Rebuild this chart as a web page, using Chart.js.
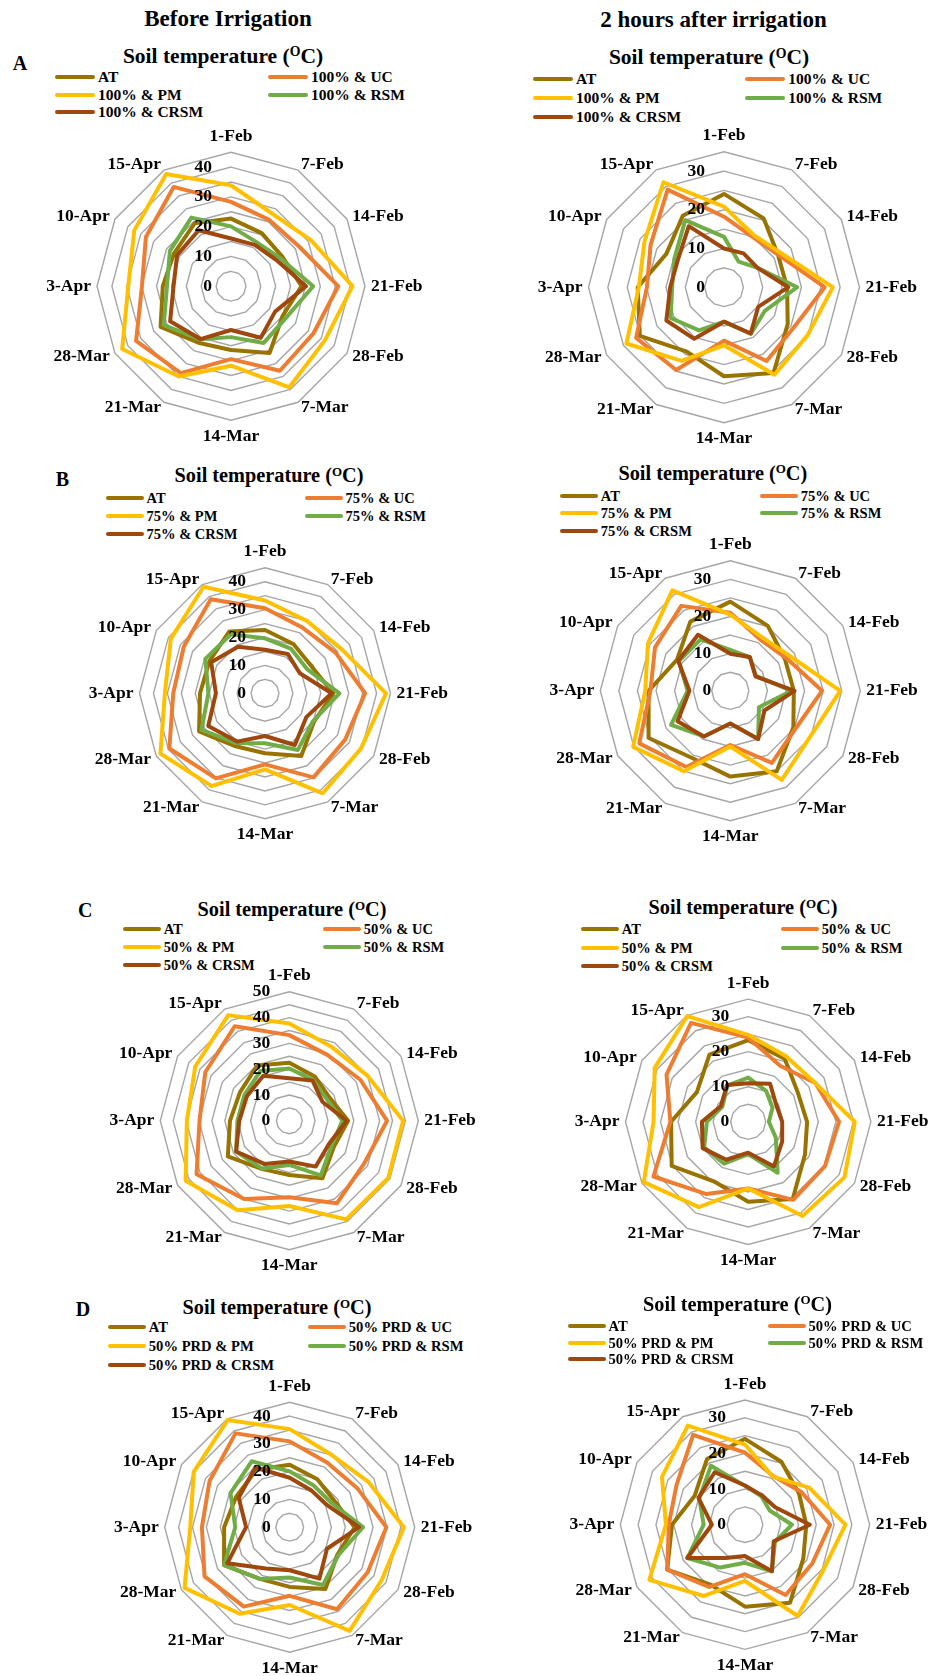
<!DOCTYPE html>
<html>
<head>
<meta charset="utf-8">
<script src="https://cdn.jsdelivr.net/npm/chart.js@4.4.1/dist/chart.umd.min.js"></script>
<style>
  html, body { margin: 0; padding: 0; background: #fff; }
  body {
    width: 944px; height: 1676px; position: relative; overflow: hidden;
    font-family: "Liberation Serif", "Times New Roman", serif; font-weight: bold; color: #000;
  }
  .txt { position: absolute; white-space: nowrap; line-height: 1; }
  .mid { transform: translate(-50%, -50%); }
  .lft { transform: translateY(-50%); }
  .sw { position: absolute; height: 4px; border-radius: 2px; transform: translateY(-50%); }
  .sup { font-size: 64%; position: relative; top: -0.48em; }
  canvas { position: absolute; }
</style>
</head>
<body>
<script>
// Sampling dates (radar axes, clockwise from the top)
const dates = ['1-Feb', '7-Feb', '14-Feb', '21-Feb', '28-Feb', '7-Mar', '14-Mar', '21-Mar', '28-Mar', '3-Apr', '10-Apr', '15-Apr'];
const seriesColors = ['#997300', '#ED7D31', '#FFC000', '#70AD47', '#9E480E'];

// Series names per irrigation level
const legendA = ['AT', '100% & UC', '100% & PM', '100% & RSM', '100% & CRSM'];
const legendB = ['AT', '75% & UC', '75% & PM', '75% & RSM', '75% & CRSM'];
const legendC = ['AT', '50% & UC', '50% & PM', '50% & RSM', '50% & CRSM'];
const legendD = ['AT', '50% PRD & UC', '50% PRD & PM', '50% PRD & RSM', '50% PRD & CRSM'];

// A – 100 % irrigation, before irrigation
const beforeA_AT   = [22.7, 20.6, 19.9, 23.7, 20.0, 25.9, 21.4, 21.9, 27.3, 22.9, 22.1, 24.4];
const beforeA_UC   = [28.3, 25.7, 26.5, 36.0, 31.9, 32.8, 24.5, 33.7, 36.8, 29.9, 33.0, 38.5];
const beforeA_PM   = [33.9, 28.0, 31.0, 40.8, 36.4, 39.2, 26.7, 35.0, 42.2, 34.5, 37.5, 43.5];
const beforeA_RSM  = [20.1, 17.1, 19.0, 27.6, 21.3, 22.0, 17.1, 20.6, 26.1, 21.5, 23.7, 26.6];
const beforeA_CRSM = [16.0, 16.0, 17.6, 25.2, 17.1, 20.0, 14.7, 20.5, 23.6, 19.3, 20.9, 21.7];
// A – 2 hours after irrigation
const afterA_AT   = [24.1, 20.5, 16.2, 16.3, 19.0, 25.6, 23.0, 19.2, 25.1, 22.3, 17.2, 21.3];
const afterA_UC   = [18.2, 14.9, 16.4, 26.0, 20.8, 22.0, 13.8, 24.7, 26.2, 19.9, 21.9, 29.1];
const afterA_PM   = [20.8, 15.5, 17.3, 28.1, 24.9, 26.1, 15.0, 22.0, 29.1, 22.0, 23.7, 31.3];
const afterA_RSM  = [13.0, 7.6, 10.0, 18.9, 12.2, 13.9, 8.9, 12.9, 15.9, 13.4, 14.8, 20.0];
const afterA_CRSM = [10.0, 10.1, 10.0, 16.6, 10.2, 13.8, 8.9, 15.4, 17.2, 13.9, 13.8, 18.2];

// B – 75 % irrigation
const beforeB_AT   = [22.7, 20.4, 19.3, 24.5, 20.3, 26.0, 21.5, 21.8, 27.3, 23.3, 23.0, 25.6];
const beforeB_UC   = [30.5, 27.1, 29.2, 35.9, 33.2, 34.8, 25.5, 35.2, 39.6, 32.9, 33.6, 38.9];
const beforeB_PM   = [33.3, 30.0, 31.7, 43.4, 39.7, 41.4, 27.3, 38.4, 43.3, 35.9, 39.0, 44.1];
const beforeB_RSM  = [19.7, 18.5, 17.4, 26.7, 19.9, 23.5, 17.9, 20.6, 26.3, 20.3, 24.7, 24.4];
const beforeB_CRSM = [15.6, 16.3, 14.4, 23.9, 17.1, 21.4, 15.3, 20.0, 23.5, 17.6, 22.3, 19.3];
const afterB_AT   = [24.0, 20.2, 17.0, 17.1, 19.6, 25.0, 23.1, 20.8, 25.4, 22.0, 16.6, 21.5];
const afterB_UC   = [21.0, 16.0, 17.5, 24.7, 20.3, 22.4, 14.6, 23.7, 28.3, 21.5, 23.4, 26.4];
const afterB_PM   = [20.5, 16.8, 18.6, 29.6, 24.8, 27.7, 15.0, 25.0, 30.2, 22.9, 25.6, 31.2];
const afterB_RSM  = [11.0, 10.5, 8.0, 16.5, 8.9, 15.0, 8.8, 14.2, 18.4, 11.5, 16.0, 16.0];
const afterB_CRSM = [10.0, 10.5, 7.8, 17.3, 10.6, 15.0, 8.8, 14.2, 16.4, 11.0, 16.2, 17.4];

// C – 50 % irrigation
const beforeC_AT   = [22.5, 19.8, 18.0, 22.8, 20.0, 25.7, 21.0, 21.5, 27.5, 23.0, 22.1, 24.8];
const beforeC_UC   = [33.2, 29.5, 31.8, 37.9, 33.4, 36.9, 29.6, 35.0, 41.5, 34.8, 37.6, 42.3];
const beforeC_PM   = [37.7, 33.0, 35.0, 44.1, 44.3, 44.1, 33.0, 40.0, 46.4, 39.7, 42.1, 47.3];
const beforeC_RSM  = [20.3, 18.3, 16.8, 20.6, 19.0, 24.4, 17.1, 21.3, 23.8, 20.1, 20.1, 22.3];
const beforeC_CRSM = [16.5, 18.0, 14.8, 22.2, 17.8, 20.5, 15.8, 19.3, 23.8, 19.4, 19.0, 20.2];
const afterC_AT   = [23.3, 20.8, 16.4, 16.8, 18.7, 25.4, 22.8, 19.6, 25.2, 22.0, 16.9, 22.1];
const afterC_UC   = [24.0, 18.4, 22.1, 25.9, 25.3, 25.7, 19.0, 23.8, 31.2, 22.2, 26.9, 32.6];
const afterC_PM   = [24.8, 21.6, 22.1, 30.4, 31.7, 31.0, 19.0, 28.1, 34.4, 27.0, 30.8, 34.8];
const afterC_RSM  = [12.6, 10.2, 8.0, 5.9, 9.1, 16.8, 9.2, 13.8, 14.5, 11.8, 8.5, 11.9];
const afterC_CRSM = [11.0, 12.5, 9.3, 9.7, 11.2, 14.7, 8.8, 12.5, 15.0, 13.2, 9.0, 12.1];

// D – 50 % partial root-zone drying
const beforeD_AT   = [22.5, 19.9, 18.7, 23.4, 19.8, 25.7, 21.5, 21.5, 27.3, 23.6, 22.2, 23.9];
const beforeD_UC   = [30.9, 26.9, 28.1, 34.8, 32.4, 34.1, 24.7, 33.0, 35.4, 31.6, 33.3, 39.0];
const beforeD_PM   = [35.3, 30.1, 32.7, 41.1, 38.2, 43.1, 28.0, 36.0, 43.7, 35.8, 39.9, 44.6];
const beforeD_RSM  = [20.1, 17.3, 17.4, 26.4, 20.2, 24.0, 18.1, 21.5, 27.3, 19.6, 24.6, 27.4];
const beforeD_CRSM = [17.8, 15.4, 15.7, 25.0, 15.5, 21.4, 15.5, 17.2, 25.9, 15.7, 21.2, 24.8];
const afterD_AT   = [24.1, 20.4, 17.5, 17.2, 18.9, 25.3, 23.0, 19.4, 25.2, 20.5, 16.3, 21.3];
const afterD_UC   = [20.2, 15.8, 18.3, 23.9, 21.8, 22.8, 13.9, 20.2, 25.2, 21.4, 22.2, 29.1];
const afterD_PM   = [22.5, 15.6, 20.8, 28.2, 25.4, 29.6, 15.8, 23.1, 31.0, 22.2, 26.9, 32.1];
const afterD_RSM  = [10.9, 9.2, 8.0, 13.2, 9.7, 15.1, 10.7, 13.9, 18.7, 11.6, 14.8, 19.1];
const afterD_CRSM = [11.0, 9.5, 9.8, 18.2, 9.3, 15.1, 8.8, 10.8, 18.7, 9.3, 15.1, 17.0];

// Radial axis maxima (°C)
const axisMaxBefore = [45, 45, 50, 45];
const axisMaxAfter = [35, 35, 35, 35];

const FONT = '"Liberation Serif", "Times New Roman", serif';

// Panel layout: radar centre/radius, title and legend placement
const panels = [
  { cx: 231, cy: 286.2, R: 134, max: axisMaxBefore[0], names: legendA,
    data: [beforeA_AT, beforeA_UC, beforeA_PM, beforeA_RSM, beforeA_CRSM],
    title: [223, 57, 21.5], lg: { rows: [77, 94.5, 112], c1: 55, c2: 268, sw: 40, size: 15.5 } },
  { cx: 724, cy: 287.2, R: 135.5, max: axisMaxAfter[0], names: legendA,
    data: [afterA_AT, afterA_UC, afterA_PM, afterA_RSM, afterA_CRSM],
    title: [709, 58.3, 21.5], lg: { rows: [79, 98.3, 117.3], c1: 533, c2: 745.3, sw: 40, size: 15.5 } },
  { cx: 265, cy: 693.3, R: 125.5, max: axisMaxBefore[1], names: legendB,
    data: [beforeB_AT, beforeB_UC, beforeB_PM, beforeB_RSM, beforeB_CRSM],
    title: [269, 475, 20.3], lg: { rows: [498.3, 516, 534], c1: 106, c2: 305, sw: 37.5, size: 14.5 } },
  { cx: 730.3, cy: 690.8, R: 130, max: axisMaxAfter[1], names: legendB,
    data: [afterB_AT, afterB_UC, afterB_PM, afterB_RSM, afterB_CRSM],
    title: [712.8, 472.7, 20.3], lg: { rows: [496, 513.3, 530.7], c1: 560.3, c2: 760.3, sw: 37.5, size: 14.5 } },
  { cx: 289.3, cy: 1120.8, R: 129, max: axisMaxBefore[2], names: legendC,
    data: [beforeC_AT, beforeC_UC, beforeC_PM, beforeC_RSM, beforeC_CRSM],
    title: [292, 909.3, 20.3], lg: { rows: [929.3, 947, 965], c1: 122.7, c2: 322.7, sw: 38, size: 14.5 } },
  { cx: 748.2, cy: 1121.8, R: 122.7, max: axisMaxAfter[2], names: legendC,
    data: [afterC_AT, afterC_UC, afterC_PM, afterC_RSM, afterC_CRSM],
    title: [743, 907.3, 20.3], lg: { rows: [929.3, 947.7, 966.3], c1: 581.3, c2: 781.3, sw: 37.5, size: 14.5 } },
  { cx: 289.7, cy: 1527.2, R: 125, max: axisMaxBefore[3], names: legendD,
    data: [beforeD_AT, beforeD_UC, beforeD_PM, beforeD_RSM, beforeD_CRSM],
    title: [277, 1307, 20.3], lg: { rows: [1327, 1346, 1365], c1: 108.3, c2: 308.3, sw: 37.5, size: 14.6 } },
  { cx: 745, cy: 1524.7, R: 124.7, max: axisMaxAfter[3], names: legendD,
    data: [afterD_AT, afterD_UC, afterD_PM, afterD_RSM, afterD_CRSM],
    title: [737.5, 1303.7, 20.3], lg: { rows: [1326, 1342.7, 1359.3], c1: 568, c2: 768, sw: 37.5, size: 14.6 } }
];

function addText(html, x, y, size, cls) {
  const d = document.createElement('div');
  d.className = 'txt ' + cls;
  d.style.left = x + 'px';
  d.style.top = y + 'px';
  d.style.fontSize = size + 'px';
  d.innerHTML = html;
  document.body.appendChild(d);
  return d;
}

// Column headers and panel letters
addText('Before Irrigation', 228, 18, 23, 'mid');
addText('2 hours after irrigation', 713.5, 19, 23, 'mid');
addText('A', 20, 63, 20, 'mid');
addText('B', 62.5, 479.3, 20, 'mid');
addText('C', 85.2, 910, 20, 'mid');
addText('D', 83, 1309.3, 20, 'mid');

// Point labels around the rim and ring values along the upper axis
const rimText = {
  id: 'rimText',
  afterDatasetsDraw(chart) {
    const s = chart.scales.r;
    const ctx = chart.ctx;
    ctx.save();
    ctx.fillStyle = '#000';
    ctx.font = 'bold 17.5px ' + FONT;
    dates.forEach((label, i) => {
      if (i === 0 || i === 6) {
        const p = s.getPointPosition(i, s.drawingArea + 16);
        ctx.textAlign = 'center';
        ctx.textBaseline = 'middle';
        ctx.fillText(label, p.x, p.y);
      } else {
        const p = s.getPointPosition(i, s.drawingArea + 6);
        ctx.textAlign = i < 6 ? 'left' : 'right';
        ctx.textBaseline = 'middle';
        ctx.fillText(label, p.x, p.y);
      }
    });
    ctx.textAlign = 'right';
    ctx.textBaseline = 'middle';
    s.ticks.forEach(t => {
      if (t.value % 10 === 0) {
        ctx.fillText(String(t.value), s.xCenter - 19, s.yCenter - s.getDistanceFromCenterForValue(t.value));
      }
    });
    ctx.restore();
  }
};

const CW = 440, CH = 340;

panels.forEach(p => {
  // title
  addText('Soil temperature (<span class="sup">O</span>C)', p.title[0], p.title[1], p.title[2], 'mid');
  // legend, two columns
  p.names.forEach((name, i) => {
    const row = Math.floor(i / 2);
    const x0 = i % 2 === 0 ? p.lg.c1 : p.lg.c2;
    const y = p.lg.rows[row];
    const sw = document.createElement('div');
    sw.className = 'sw';
    sw.style.left = x0 + 'px';
    sw.style.top = y + 'px';
    sw.style.width = p.lg.sw + 'px';
    sw.style.background = seriesColors[i];
    document.body.appendChild(sw);
    addText(name, x0 + p.lg.sw + 3, y, p.lg.size, 'lft');
  });

  // radar canvas
  const left = Math.round(p.cx - CW / 2);
  const top = Math.round(p.cy - CH / 2);
  const cv = document.createElement('canvas');
  cv.width = CW; cv.height = CH;
  cv.style.left = left + 'px';
  cv.style.top = top + 'px';
  cv.style.width = CW + 'px';
  cv.style.height = CH + 'px';
  document.body.appendChild(cv);
  const offX = p.cx - left, offY = p.cy - top, R = p.R;

  new Chart(cv, {
    type: 'radar',
    data: {
      labels: dates,
      datasets: p.data.map((vals, i) => ({
        label: p.names[i],
        data: vals,
        borderColor: seriesColors[i],
        backgroundColor: seriesColors[i],
        borderWidth: 4,
        borderJoinStyle: 'round',
        borderCapStyle: 'round',
        fill: false,
        tension: 0,
        pointRadius: 0,
        pointHoverRadius: 0,
        order: 5 - i
      }))
    },
    options: {
      responsive: false,
      animation: false,
      devicePixelRatio: 1,
      events: [],
      layout: { padding: 0 },
      plugins: { legend: { display: false }, tooltip: { enabled: false }, title: { display: false } },
      scales: {
        r: {
          min: 0,
          max: p.max,
          ticks: { stepSize: 5, display: false },
          grid: { color: '#A6A6A6', lineWidth: 1.4 },
          angleLines: { display: false },
          pointLabels: { display: false },
          afterFit(scale) {
            scale.xCenter = scale.left + offX;
            scale.yCenter = scale.top + offY;
            scale.drawingArea = R;
          }
        }
      }
    },
    plugins: [rimText]
  });
});
</script>
</body>
</html>
